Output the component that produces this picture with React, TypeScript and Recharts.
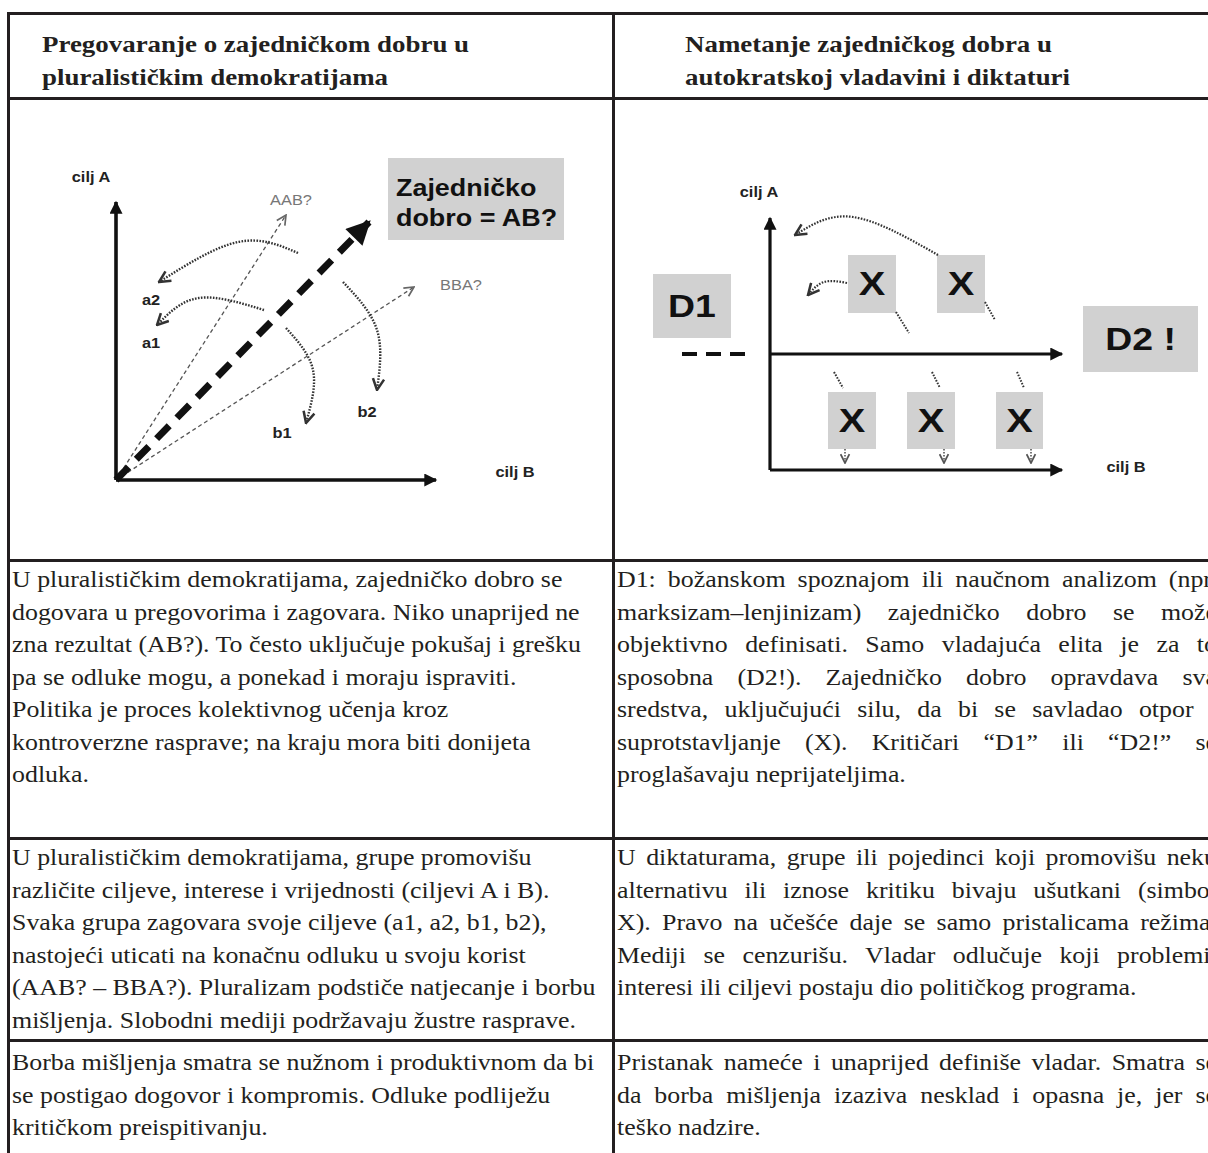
import React from "react";
import { ComposedChart, Line, Scatter, XAxis, YAxis, ReferenceArea } from "recharts";

// ---- left diagram (units: px measured from the corner of the two axes) ----
const leftAxisA = [{ x: 0, y: 0 }, { x: 0, y: 278 }];
const leftAxisB = [{ x: 0, y: 0 }, { x: 320, y: 0 }];
const commonGood = [{ x: 0, y: 0 }, { x: 253, y: 258 }];
const pathAAB = [{ x: 0, y: 0 }, { x: 170, y: 265 }];
const pathBBA = [{ x: 0, y: 0 }, { x: 298, y: 193 }];
const curveA2 = [{ x: 182, y: 227 }, { x: 122, y: 238 }, { x: 43, y: 198 }];
const curveA1 = [{ x: 148, y: 170 }, { x: 83, y: 182 }, { x: 41, y: 155 }];
const curveB1 = [{ x: 170, y: 152 }, { x: 197, y: 110 }, { x: 190, y: 57 }];
const curveB2 = [{ x: 227, y: 198 }, { x: 261, y: 150 }, { x: 261, y: 90 }];
const goalLabels = [
  { x: 35, y: 180, label: "a2" },
  { x: 35, y: 137, label: "a1" },
  { x: 166, y: 47, label: "b1" },
  { x: 251, y: 68, label: "b2" },
];
const outcomeLabels = [
  { x: 175, y: 280, label: "AAB?" },
  { x: 345, y: 195, label: "BBA?" },
];
const leftAxisLabels = [
  { x: -25, y: 303, label: "cilj A" },
  { x: 399, y: 8, label: "cilj B" },
];
const goodBox = { x1: 272, x2: 448, y1: 240, y2: 322 };
const goodBoxText = [
  { x: 280, y: 292, label: "Zajedničko" },
  { x: 280, y: 262, label: "dobro = AB?" },
];

// ---- right diagram ----
const rightAxisA = [{ x: 0, y: 0 }, { x: 0, y: 252 }];
const rightAxisMid = [{ x: 0, y: 116 }, { x: 292, y: 116 }];
const rightAxisB = [{ x: 0, y: 0 }, { x: 292, y: 0 }];
const d1Trail = [{ x: -88, y: 116 }, { x: -20, y: 116 }];
const dBoxes = [
  { x1: -117, x2: -39, y1: 132, y2: 196, label: "D1" },
  { x1: 313, x2: 428, y1: 98, y2: 164, label: "D2 !" },
];
const xBoxes = [
  { x1: 78, x2: 126, y1: 157, y2: 215, label: "X" },
  { x1: 167, x2: 215, y1: 157, y2: 215, label: "X" },
  { x1: 58, x2: 106, y1: 21, y2: 78, label: "X" },
  { x1: 137, x2: 185, y1: 21, y2: 78, label: "X" },
  { x1: 226, x2: 273, y1: 21, y2: 78, label: "X" },
];
const pushLong = [{ x: 168, y: 215 }, { x: 83, y: 253 }, { x: 25, y: 235 }];
const pushShort = [{ x: 77, y: 187 }, { x: 54, y: 188 }, { x: 38, y: 175 }];
const tails = [
  [{ x: 126, y: 158 }, { x: 139, y: 137 }],
  [{ x: 215, y: 168 }, { x: 225, y: 150 }],
  [{ x: 64, y: 98 }, { x: 73, y: 82 }],
  [{ x: 162, y: 98 }, { x: 170, y: 82 }],
  [{ x: 247, y: 98 }, { x: 254, y: 82 }],
];
const pushDown = [
  [{ x: 75, y: 21 }, { x: 75, y: 7 }],
  [{ x: 174, y: 21 }, { x: 174, y: 7 }],
  [{ x: 261, y: 21 }, { x: 261, y: 7 }],
];
const rightAxisLabels = [
  { x: -11, y: 278, label: "cilj A" },
  { x: 356, y: 3, label: "cilj B" },
];

// ---- table texts ----
const headLeft = ["Pregovaranje o zajedničkom dobru u", "pluralističkim demokratijama"];
const headRight = ["Nametanje zajedničkog dobra u", "autokratskoj vladavini i diktaturi"];
const row1Left = [
  "U pluralističkim demokratijama, zajedničko dobro se",
  "dogovara u pregovorima i zagovara. Niko unaprijed ne",
  "zna rezultat (AB?). To često uključuje pokušaj i grešku",
  "pa se odluke mogu, a ponekad i moraju ispraviti.",
  "Politika je proces kolektivnog učenja kroz",
  "kontroverzne rasprave; na kraju mora biti donijeta",
  "odluka.",
];
const row1Right = [
  "D1: božanskom spoznajom ili naučnom analizom (npr.",
  "marksizam–lenjinizam) zajedničko dobro se može",
  "objektivno definisati. Samo vladajuća elita je za to",
  "sposobna (D2!). Zajedničko dobro opravdava sva",
  "sredstva, uključujući silu, da bi se savladao otpor i",
  "suprotstavljanje (X). Kritičari “D1” ili “D2!” se",
  "proglašavaju neprijateljima.",
];
const row2Left = [
  "U pluralističkim demokratijama, grupe promovišu",
  "različite ciljeve, interese i vrijednosti (ciljevi A i B).",
  "Svaka grupa zagovara svoje ciljeve (a1, a2, b1, b2),",
  "nastojeći uticati na konačnu odluku u svoju korist",
  "(AAB? – BBA?). Pluralizam podstiče natjecanje i borbu",
  "mišljenja. Slobodni mediji podržavaju žustre rasprave.",
];
const row2Right = [
  "U diktaturama, grupe ili pojedinci koji promovišu neku",
  "alternativu ili iznose kritiku bivaju ušutkani (simbol",
  "X). Pravo na učešće daje se samo pristalicama režima.",
  "Mediji se cenzurišu. Vladar odlučuje koji problemi,",
  "interesi ili ciljevi postaju dio političkog programa.",
];
const row3Left = [
  "Borba mišljenja smatra se nužnom i produktivnom da bi",
  "se postigao dogovor i kompromis. Odluke podliježu",
  "kritičkom preispitivanju.",
];
const row3Right = [
  "Pristanak nameće i unaprijed definiše vladar. Smatra se",
  "da borba mišljenja izaziva nesklad i opasna je, jer se",
  "teško nadzire.",
];

const INK = "#231f20";
const SERIF = '"Liberation Serif", "Times New Roman", serif';
const SANS = '"Liberation Sans", Arial, sans-serif';
const BOX_GREY = "#d1d1d1";
const STRETCH = 1.17; // the source is wider than it is tall
const BODY_STRETCH = 1.125;

const textShape = (size: number, weight: string, fill: string, anchor: string) => (props: any) =>
  (
    <text
      transform={`translate(${props.cx} ${props.cy}) scale(${STRETCH} 1)`}
      x={0}
      y={0}
      textAnchor={anchor}
      dominantBaseline="central"
      fontFamily={SANS}
      fontSize={size}
      fontWeight={weight}
      fill={fill}
    >
      {props.payload.label}
    </text>
  );

function Markers({ p }: { p: string }) {
  return (
    <defs>
      <marker id={`${p}-tri`} viewBox="0 0 10 10" refX="9" refY="5" markerWidth="15" markerHeight="13" markerUnits="userSpaceOnUse" orient="auto">
        <path d="M0,0 L10,5 L0,10 z" fill="#111" />
      </marker>
      <marker id={`${p}-big`} viewBox="0 0 10 10" refX="9" refY="5" markerWidth="26" markerHeight="24" markerUnits="userSpaceOnUse" orient="auto">
        <path d="M0,0 L10,5 L0,10 z" fill="#111" />
      </marker>
      <marker id={`${p}-chev`} viewBox="0 0 10 10" refX="9" refY="5" markerWidth="14" markerHeight="14" markerUnits="userSpaceOnUse" orient="auto">
        <path d="M1,1 L9,5 L1,9" fill="none" stroke="#333" strokeWidth="1.8" />
      </marker>
      <marker id={`${p}-chevg`} viewBox="0 0 10 10" refX="9" refY="5" markerWidth="12" markerHeight="12" markerUnits="userSpaceOnUse" orient="auto">
        <path d="M1,1 L9,5 L1,9" fill="none" stroke="#666" strokeWidth="1.4" />
      </marker>
      <marker id={`${p}-chevs`} viewBox="0 0 10 10" refX="9" refY="5" markerWidth="11" markerHeight="11" markerUnits="userSpaceOnUse" orient="auto">
        <path d="M1,1 L9,5 L1,9" fill="none" stroke="#555" strokeWidth="1.6" />
      </marker>
    </defs>
  );
}

const noDot = { dot: false, activeDot: false, isAnimationActive: false } as const;

function LeftDiagram() {
  return (
    <ComposedChart width={602} height={459} margin={{ top: 0, right: 0, bottom: 0, left: 0 }}>
      <Markers p="l" />
      <XAxis dataKey="x" type="number" domain={[-106, 496]} allowDataOverflow hide />
      <YAxis dataKey="y" type="number" domain={[-79, 380]} allowDataOverflow hide />
      <ReferenceArea x1={goodBox.x1} x2={goodBox.x2} y1={goodBox.y1} y2={goodBox.y2} fill={BOX_GREY} fillOpacity={1} stroke="none" />
      {[pathAAB, pathBBA].map((d, i) => (
        <Line key={`t${i}`} data={d} dataKey="y" type="linear" stroke="#555" strokeWidth={1.3} strokeDasharray="4 3" markerEnd="url(#l-chevg)" {...noDot} />
      ))}
      <Line data={commonGood} dataKey="y" type="linear" stroke="#111" strokeWidth={7} strokeDasharray="18 11" markerEnd="url(#l-big)" {...noDot} />
      {[leftAxisA, leftAxisB].map((d, i) => (
        <Line key={`a${i}`} data={d} dataKey="y" type="linear" stroke="#111" strokeWidth={3.6} markerEnd="url(#l-tri)" {...noDot} />
      ))}
      {[curveA2, curveA1, curveB1, curveB2].map((d, i) => (
        <Line key={`c${i}`} data={d} dataKey="y" type="natural" stroke="#333" strokeWidth={2.4} strokeDasharray="1.6 1.4" markerEnd="url(#l-chev)" {...noDot} />
      ))}
      <Scatter data={goalLabels} shape={textShape(14, "bold", "#222", "middle")} isAnimationActive={false} />
      <Scatter data={outcomeLabels} shape={textShape(14, "normal", "#777", "middle")} isAnimationActive={false} />
      <Scatter data={leftAxisLabels} shape={textShape(14, "bold", "#222", "middle")} isAnimationActive={false} />
      <Scatter data={goodBoxText} shape={textShape(23, "bold", "#111", "start")} isAnimationActive={false} />
    </ComposedChart>
  );
}

function RightDiagram() {
  const boxLabels = [...dBoxes, ...xBoxes].map((b) => ({ x: (b.x1 + b.x2) / 2, y: (b.y1 + b.y2) / 2, label: b.label }));
  return (
    <ComposedChart width={606} height={459} margin={{ top: 0, right: 0, bottom: 0, left: 0 }}>
      <Markers p="r" />
      <XAxis dataKey="x" type="number" domain={[-155, 451]} allowDataOverflow hide />
      <YAxis dataKey="y" type="number" domain={[-89, 370]} allowDataOverflow hide />
      {[...dBoxes, ...xBoxes].map((b, i) => (
        <ReferenceArea key={`b${i}`} x1={b.x1} x2={b.x2} y1={b.y1} y2={b.y2} fill={BOX_GREY} fillOpacity={1} stroke="none" />
      ))}
      {[rightAxisA, rightAxisMid, rightAxisB].map((d, i) => (
        <Line key={`a${i}`} data={d} dataKey="y" type="linear" stroke="#111" strokeWidth={3.2} markerEnd="url(#r-tri)" {...noDot} />
      ))}
      <Line data={d1Trail} dataKey="y" type="linear" stroke="#111" strokeWidth={4} strokeDasharray="15 9" {...noDot} />
      {[pushLong, pushShort].map((d, i) => (
        <Line key={`p${i}`} data={d} dataKey="y" type="natural" stroke="#333" strokeWidth={2.2} strokeDasharray="1.6 1.4" markerEnd="url(#r-chev)" {...noDot} />
      ))}
      {tails.map((d, i) => (
        <Line key={`t${i}`} data={d} dataKey="y" type="linear" stroke="#333" strokeWidth={2} strokeDasharray="1.6 1.4" {...noDot} />
      ))}
      {pushDown.map((d, i) => (
        <Line key={`d${i}`} data={d} dataKey="y" type="linear" stroke="#555" strokeWidth={1.6} strokeDasharray="1.6 1.4" markerEnd="url(#r-chevs)" {...noDot} />
      ))}
      <Scatter data={boxLabels.slice(0, 2)} shape={textShape(32, "bold", "#111", "middle")} isAnimationActive={false} />
      <Scatter data={boxLabels.slice(2)} shape={textShape(34, "bold", "#111", "middle")} isAnimationActive={false} />
      <Scatter data={rightAxisLabels} shape={textShape(14, "bold", "#222", "middle")} isAnimationActive={false} />
    </ComposedChart>
  );
}

function Lines({ lines, left, top, width, justify, bold, size = 23, lh = 32.5, stretch = BODY_STRETCH }: any) {
  return (
    <div
      style={{
        position: "absolute",
        left,
        top,
        width: width / stretch,
        transform: `scaleX(${stretch})`,
        transformOrigin: "0 0",
        fontFamily: SERIF,
        fontSize: size,
        lineHeight: `${lh}px`,
        color: INK,
        fontWeight: bold ? "bold" : "normal",
      }}
    >
      {lines.map((l: string, i: number) => {
        const j = justify && i < lines.length - 1;
        return (
          <div key={i} style={{ whiteSpace: "nowrap", textAlign: j ? "justify" : "left", textAlignLast: j ? "justify" : "left" } as any}>
            {l}
          </div>
        );
      })}
    </div>
  );
}

const hRule = (top: number) => <div key={`h${top}`} style={{ position: "absolute", left: 7, top, width: 1220, height: 3, background: INK }} />;
const vRule = (left: number) => <div key={`v${left}`} style={{ position: "absolute", left, top: 12, width: 3, height: 1160, background: INK }} />;

export default function App() {
  return (
    <div style={{ position: "fixed", left: 0, top: 0, width: 1208, height: 1153, overflow: "hidden", background: "#fff" }}>
      {[12, 97, 559, 837, 1039].map(hRule)}
      {[7, 612].map(vRule)}
      <Lines lines={headLeft} left={42} top={28} width={560} bold lh={33} stretch={STRETCH} />
      <Lines lines={headRight} left={685} top={28} width={520} bold lh={33} stretch={STRETCH} />
      <div style={{ position: "absolute", left: 10, top: 100 }}>
        <LeftDiagram />
      </div>
      <div style={{ position: "absolute", left: 615, top: 100 }}>
        <RightDiagram />
      </div>
      <Lines lines={row1Left} left={12} top={564} width={596} />
      <Lines lines={row1Right} left={617} top={564} width={600} justify />
      <Lines lines={row2Left} left={12} top={842} width={596} />
      <Lines lines={row2Right} left={617} top={842} width={600} justify />
      <Lines lines={row3Left} left={12} top={1047} width={596} />
      <Lines lines={row3Right} left={617} top={1047} width={600} justify />
    </div>
  );
}
